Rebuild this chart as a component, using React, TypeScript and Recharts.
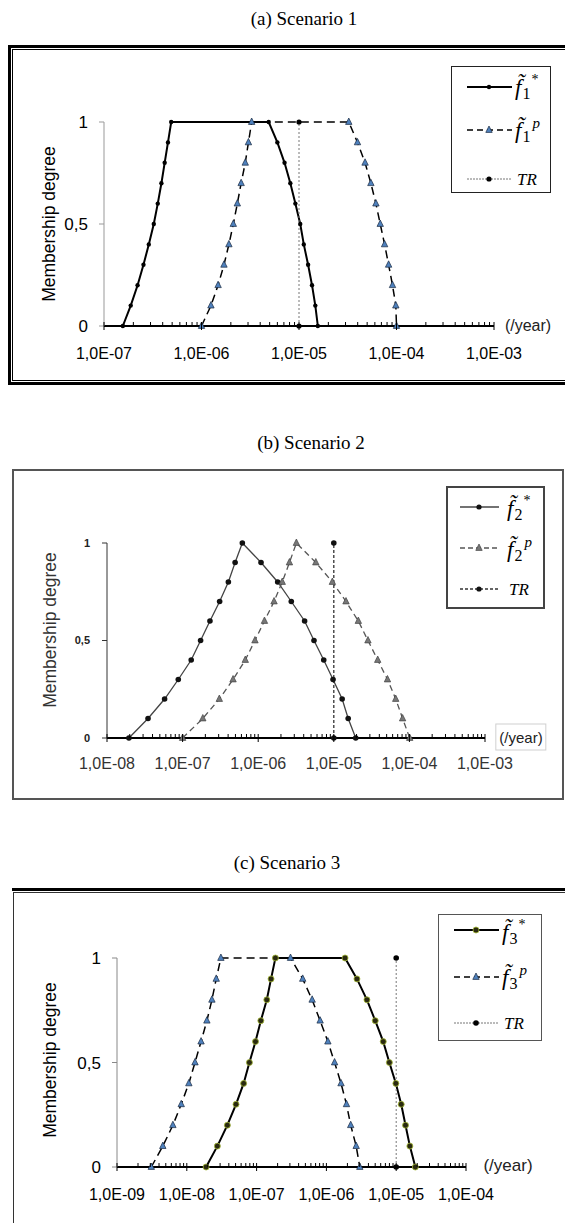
import React from "react"
import { LineChart, Line, XAxis, YAxis } from "recharts"

// membership degrees (shared by all fuzzy numbers)
const degUp = [0, 0.1, 0.2, 0.3, 0.4, 0.5, 0.6, 0.7, 0.8, 0.9, 1]
const degDown = [1, 0.9, 0.8, 0.7, 0.6, 0.5, 0.4, 0.3, 0.2, 0.1, 0]
const degTrapezoid = [...degUp, ...degDown]
const degTriangle = [...degUp, ...degDown.slice(1)]
const degTR = [0, 1]
const degreeTicks = [0, 0.5, 1]

// tolerable risk (/year)
const trRate = [1e-5, 1e-5]

// (a) Scenario 1
const decades1 = [1e-7, 1e-6, 1e-5, 1e-4, 1e-3]
const f1Star = [
  1.56e-7, 1.88e-7, 2.21e-7, 2.54e-7, 2.88e-7, 3.24e-7, 3.56e-7, 3.88e-7, 4.19e-7, 4.53e-7, 4.89e-7,
  4.89e-6, 6.0e-6, 7.11e-6, 8.15e-6, 9.18e-6, 1.03e-5, 1.12e-5, 1.24e-5, 1.36e-5, 1.47e-5, 1.56e-5,
]
const f1P = [
  1.0e-6, 1.25e-6, 1.48e-6, 1.7e-6, 1.91e-6, 2.12e-6, 2.33e-6, 2.55e-6, 2.81e-6, 3.03e-6, 3.27e-6,
  3.24e-5, 3.98e-5, 4.76e-5, 5.46e-5, 6.15e-5, 6.81e-5, 7.55e-5, 8.3e-5, 9.1e-5, 9.84e-5, 1.0e-4,
]

// (b) Scenario 2
const decades2 = [1e-8, 1e-7, 1e-6, 1e-5, 1e-4, 1e-3]
const f2Star = [
  1.95e-8, 3.49e-8, 5.78e-8, 8.77e-8, 1.3e-7, 1.73e-7, 2.3e-7, 3.09e-7, 4.03e-7, 4.95e-7, 6.17e-7,
  1.09e-6, 1.81e-6, 2.74e-6, 4.11e-6, 5.47e-6, 7.36e-6, 9.77e-6, 1.29e-5, 1.55e-5, 1.95e-5,
]
const f2P = [
  1.0e-7, 1.85e-7, 3.06e-7, 4.65e-7, 6.75e-7, 9.06e-7, 1.21e-6, 1.62e-6, 2.08e-6, 2.59e-6, 3.2e-6,
  5.78e-6, 9.57e-6, 1.45e-5, 2.11e-5, 2.83e-5, 3.81e-5, 5.13e-5, 6.59e-5, 8.13e-5, 1.01e-4,
]

// (c) Scenario 3
const decades3 = [1e-9, 1e-8, 1e-7, 1e-6, 1e-5, 1e-4]
const f3Star = [
  1.89e-8, 2.74e-8, 3.81e-8, 5.07e-8, 6.52e-8, 7.89e-8, 9.64e-8, 1.15e-7, 1.4e-7, 1.61e-7, 1.86e-7,
  1.85e-6, 2.74e-6, 3.81e-6, 5.01e-6, 6.52e-6, 7.98e-6, 9.89e-6, 1.18e-5, 1.36e-5, 1.57e-5, 1.88e-5,
]
const f3P = [
  3.1e-9, 4.53e-9, 6.32e-9, 8.32e-9, 1.07e-8, 1.31e-8, 1.6e-8, 1.94e-8, 2.29e-8, 2.64e-8, 3.08e-8,
  3.06e-7, 4.58e-7, 6.25e-7, 8.13e-7, 1.05e-6, 1.31e-6, 1.62e-6, 1.94e-6, 2.23e-6, 2.67e-6, 3.01e-6,
]

const SANS = "'Liberation Sans', Arial, sans-serif"
const SERIF = "'Liberation Serif', 'Times New Roman', serif"

function pts(xs: number[], ys: number[]) {
  return xs.map((x, i) => ({ x, y: ys[i] }))
}

// decade ticks plus the 2..9 minor ticks between them
function logTicks(decades: number[]) {
  const out: number[] = []
  decades.forEach((d, i) => {
    if (i === decades.length - 1) {
      out.push(d)
      return
    }
    for (let m = 1; m <= 9; m++) out.push(Number((d * m).toPrecision(6)))
  })
  return out
}

function rateLabel(v: number) {
  const e = Math.round(Math.log10(v))
  return "1,0E-" + String(-e).padStart(2, "0")
}

// eslint-disable-next-line @typescript-eslint/no-explicit-any
function RateTick({ x, y, payload, fontSize, color, labelDy }: any) {
  const v = payload.value
  const lg = Math.log10(v)
  const major = Math.abs(lg - Math.round(lg)) < 1e-6
  if (!major) return <line x1={x} x2={x} y1={y} y2={y - 4} stroke="#000" strokeWidth={1} />
  return (
    <g>
      <line x1={x} x2={x} y1={y - 4} y2={y + 4} stroke="#000" strokeWidth={1} />
      <text x={x} y={y + labelDy} textAnchor="middle" fontSize={fontSize} fill={color} fontFamily={SANS}>
        {rateLabel(v)}
      </text>
    </g>
  )
}

// eslint-disable-next-line @typescript-eslint/no-explicit-any
const circleDot = (r: number, fill: string, stroke = "none", sw = 0) => (p: any) => {
  if (p.cx == null || p.cy == null) return <g key={p.index} />
  return <circle key={p.index} cx={p.cx} cy={p.cy} r={r} fill={fill} stroke={stroke} strokeWidth={sw} />
}

// eslint-disable-next-line @typescript-eslint/no-explicit-any
const triangleDot = (s: number, fill: string, stroke: string) => (p: any) => {
  if (p.cx == null || p.cy == null) return <g key={p.index} />
  const d = `M${p.cx},${p.cy - s} L${p.cx + s * 0.8},${p.cy + s * 0.6} L${p.cx - s * 0.8},${p.cy + s * 0.6} Z`
  return <path key={p.index} d={d} fill={fill} stroke={stroke} strokeWidth={0.7} />
}

type Series = {
  name: string
  data: { x: number; y: number }[]
  stroke: string
  width: number
  dash?: string
  // eslint-disable-next-line @typescript-eslint/no-explicit-any
  dot: (p: any) => React.ReactElement
}

type PanelProps = {
  top: number
  height: number
  plotLeft: number
  plotRight: number
  plotTop: number
  plotBottom: number
  decades: number[]
  series: Series[]
  xFont: number
  xColor: string
  labelDy: number
  yFont: number
  yColor: string
  yWeight?: number
  yMargin: number
  yAxisColor: string
}

function Panel(p: PanelProps) {
  const ticks = logTicks(p.decades)
  const xh = 40
  return (
    <div style={{ position: "absolute", left: 0, top: p.top, width: 565, height: p.height }}>
      <LineChart
        width={565}
        height={p.height}
        margin={{ top: p.plotTop, right: 565 - p.plotRight, left: 0, bottom: p.height - p.plotBottom - xh }}
      >
        <XAxis
          dataKey="x"
          type="number"
          scale="log"
          domain={[p.decades[0], p.decades[p.decades.length - 1]]}
          allowDataOverflow
          ticks={ticks}
          interval={0}
          height={xh}
          tickSize={0}
          tickMargin={0}
          tickLine={false}
          axisLine={{ stroke: "#000", strokeWidth: 2 }}
          tick={(tp) => <RateTick {...tp} fontSize={p.xFont} color={p.xColor} labelDy={p.labelDy} />}
        />
        <YAxis
          type="number"
          domain={[0, 1]}
          ticks={degreeTicks}
          width={p.plotLeft}
          tickSize={5}
          tickMargin={p.yMargin}
          tickFormatter={(v) => String(v).replace(".", ",")}
          tick={{ fontSize: p.yFont, fill: p.yColor, fontFamily: SANS, fontWeight: p.yWeight ?? 400 }}
          axisLine={{ stroke: p.yAxisColor, strokeWidth: 1 }}
          tickLine={{ stroke: p.yAxisColor, strokeWidth: 1 }}
        />
        {p.series.map((s) => (
          <Line
            key={s.name}
            data={s.data}
            dataKey="y"
            type="linear"
            stroke={s.stroke}
            strokeWidth={s.width}
            strokeDasharray={s.dash}
            dot={s.dot}
            activeDot={false}
            isAnimationActive={false}
          />
        ))}
      </LineChart>
    </div>
  )
}

// f with tilde, subscript index and superscript mark, as one text
function FSymbol({ x, y, sub, sup }: { x: number; y: number; sub: string; sup: string }) {
  return (
    <text x={x} y={y + 8} fontFamily={SERIF} fill="#000">
      <tspan fontSize={23} fontStyle="italic">{"f\u0303"}</tspan>
      <tspan fontSize={16} dx={1} dy={4}>{sub}</tspan>
      {sup === "*" ? (
        <tspan fontSize={14} dx={1} dy={-15}>*</tspan>
      ) : (
        <tspan fontSize={15} fontStyle="italic" dx={2} dy={-14}>p</tspan>
      )}
    </text>
  )
}

type LegendRow = {
  y: number
  stroke: string
  width: number
  dash?: string
  marker: React.ReactElement
  label: React.ReactElement
}

function LegendBox({ left, top, width, height, border, rows, x1, x2 }: {
  left: number; top: number; width: number; height: number; border: string
  rows: LegendRow[]; x1: number; x2: number
}) {
  return (
    <div style={{ position: "absolute", left, top, width, height, border, boxSizing: "border-box", background: "#fff" }}>
      <svg width={width} height={height} style={{ position: "absolute", left: -1, top: -1 }}>
        {rows.map((r, i) => (
          <g key={i}>
            <line x1={x1} x2={x2} y1={r.y} y2={r.y} stroke={r.stroke} strokeWidth={r.width} strokeDasharray={r.dash} />
            {r.marker}
            {r.label}
          </g>
        ))}
      </svg>
    </div>
  )
}

function Title({ x, y, text }: { x: number; y: number; text: string }) {
  return (
    <div style={{ position: "absolute", left: x, top: y, transform: "translate(-50%,-50%)", fontFamily: SERIF, fontSize: 19, whiteSpace: "nowrap" }}>
      {text}
    </div>
  )
}

function YLabel({ x, y, size, color }: { x: number; y: number; size: number; color: string }) {
  return (
    <div style={{ position: "absolute", left: x, top: y, transform: "translate(-50%,-50%) rotate(-90deg)", fontFamily: SANS, fontSize: size, color, whiteSpace: "nowrap" }}>
      Membership degree
    </div>
  )
}

function Unit({ x, y, size, boxed }: { x: number; y: number; size: number; boxed?: boolean }) {
  return (
    <div style={{
      position: "absolute", left: x, top: y, transform: "translate(-50%,-50%)", fontFamily: SANS, fontSize: size,
      whiteSpace: "nowrap", color: "#222", padding: boxed ? "4px 3px" : 0, border: boxed ? "1px solid #d0d0d0" : "none",
    }}>
      (/year)
    </div>
  )
}

const BLUE = "#4f81bd"

export default function App() {
  const s1: Series[] = [
    { name: "f1s", data: pts(f1Star, degTrapezoid), stroke: "#000", width: 2, dot: circleDot(2.2, "#000") },
    { name: "f1p", data: pts(f1P, degTrapezoid), stroke: "#000", width: 1.5, dash: "8 5", dot: triangleDot(4, BLUE, "#1a2a40") },
    { name: "tr1", data: pts(trRate, degTR), stroke: "#777", width: 1, dash: "2 2", dot: circleDot(2.6, "#000") },
  ]
  const s2: Series[] = [
    { name: "f2s", data: pts(f2Star, degTriangle), stroke: "#444", width: 1.3, dot: circleDot(2.8, "#111") },
    { name: "f2p", data: pts(f2P, degTriangle), stroke: "#555", width: 1.3, dash: "6 4", dot: triangleDot(4, "#777", "#444") },
    { name: "tr2", data: pts(trRate, degTR), stroke: "#333", width: 1.3, dash: "3 2", dot: circleDot(2.8, "#111") },
  ]
  const s3: Series[] = [
    { name: "f3s", data: pts(f3Star, degTrapezoid), stroke: "#000", width: 2, dot: circleDot(3, "#2a2a10", "#a8bc38", 0.8) },
    { name: "f3p", data: pts(f3P, degTrapezoid), stroke: "#000", width: 1.5, dash: "8 5", dot: triangleDot(4, BLUE, "#1a2a40") },
    { name: "tr3", data: pts(trRate, degTR), stroke: "#777", width: 1, dash: "2 2", dot: circleDot(2.8, "#000") },
  ]

  return (
    <div style={{ position: "absolute", left: 0, top: 0, width: 565, height: 1223, overflow: "hidden", background: "#fff" }}>
      {/* (a) frame: thick outer + thin inner */}
      <div style={{ position: "absolute", left: 8, top: 45, width: 620, height: 340, border: "3px solid #000", boxSizing: "border-box" }} />
      <div style={{ position: "absolute", left: 12, top: 49, width: 620, height: 332, border: "1px solid #000", boxSizing: "border-box" }} />
      {/* (b) frame */}
      <div style={{ position: "absolute", left: 12, top: 469, width: 552, height: 331, border: "2px solid #555", boxSizing: "border-box" }} />
      {/* (c) frame */}
      <div style={{ position: "absolute", left: 12, top: 888, width: 560, height: 3, background: "#000" }} />
      <div style={{ position: "absolute", left: 13, top: 892, width: 560, height: 1, background: "#333" }} />
      <div style={{ position: "absolute", left: 13, top: 892, width: 1, height: 340, background: "#333" }} />

      <Title x={304} y={19} text="(a) Scenario 1" />
      <Title x={311} y={443} text="(b) Scenario 2" />
      <Title x={287} y={863} text="(c) Scenario 3" />

      <Panel
        top={0} height={400} plotLeft={104} plotRight={494} plotTop={122} plotBottom={326}
        decades={decades1} series={s1} xFont={16} xColor="#000" labelDy={33}
        yFont={17} yColor="#000" yMargin={11} yAxisColor="#999"
      />
      <Panel
        top={400} height={400} plotLeft={107} plotRight={485} plotTop={143} plotBottom={338}
        decades={decades2} series={s2} xFont={16} xColor="#333" labelDy={31}
        yFont={11} yColor="#222" yWeight={700} yMargin={12} yAxisColor="#333"
      />
      <Panel
        top={830} height={393} plotLeft={117} plotRight={466} plotTop={128} plotBottom={337}
        decades={decades3} series={s3} xFont={16} xColor="#000" labelDy={33}
        yFont={17} yColor="#000" yMargin={11} yAxisColor="#888"
      />

      <YLabel x={49} y={224} size={17.5} color="#000" />
      <YLabel x={50} y={630} size={17.5} color="#333" />
      <YLabel x={50} y={1060} size={17.5} color="#000" />

      <Unit x={528} y={326} size={16} />
      <Unit x={521} y={737} size={15} boxed />
      <Unit x={508} y={1166} size={17} />

      <LegendBox
        left={451} top={66} width={100} height={127} border="1px solid #222" x1={16} x2={61}
        rows={[
          { y: 21, stroke: "#000", width: 2, marker: <circle cx={38} cy={21} r={2.2} fill="#000" />, label: <FSymbol x={64} y={21} sub="1" sup="*" /> },
          { y: 64, stroke: "#000", width: 1.5, dash: "6 4", marker: <path d="M38,60 L41.2,66.4 L34.8,66.4 Z" fill={BLUE} stroke="#1a2a40" strokeWidth={0.7} />, label: <FSymbol x={64} y={64} sub="1" sup="p" /> },
          { y: 113, stroke: "#777", width: 1, dash: "2 1", marker: <circle cx={38} cy={113} r={2.6} fill="#000" />, label: <text x={66} y={119} fontSize={17} fontStyle="italic" fontFamily={SERIF}>TR</text> },
        ]}
      />
      <LegendBox
        left={446} top={486} width={99} height={123} border="2px solid #444" x1={13} x2={52}
        rows={[
          { y: 20, stroke: "#444", width: 1.5, marker: <circle cx={32} cy={20} r={2.6} fill="#111" />, label: <FSymbol x={60} y={21} sub="2" sup="*" /> },
          { y: 61, stroke: "#555", width: 1.3, dash: "5 3", marker: <path d="M32,57 L35.2,63.4 L28.8,63.4 Z" fill="#777" stroke="#444" strokeWidth={0.7} />, label: <FSymbol x={60} y={62} sub="2" sup="p" /> },
          { y: 102, stroke: "#333", width: 1.3, dash: "3 2", marker: <circle cx={32} cy={102} r={2.6} fill="#111" />, label: <text x={62} y={108} fontSize={17} fontStyle="italic" fontFamily={SERIF}>TR</text> },
        ]}
      />
      <LegendBox
        left={438} top={914} width={104} height={127} border="1px solid #555" x1={16} x2={61}
        rows={[
          { y: 16, stroke: "#000", width: 2, marker: <circle cx={38} cy={16} r={3} fill="#2a2a10" stroke="#a8bc38" strokeWidth={0.8} />, label: <FSymbol x={64} y={18} sub="3" sup="*" /> },
          { y: 63, stroke: "#000", width: 1.5, dash: "6 4", marker: <path d="M38,59 L41.2,65.4 L34.8,65.4 Z" fill={BLUE} stroke="#1a2a40" strokeWidth={0.7} />, label: <FSymbol x={64} y={63} sub="3" sup="p" /> },
          { y: 109, stroke: "#777", width: 1, dash: "2 1", marker: <circle cx={38} cy={109} r={2.8} fill="#000" />, label: <text x={66} y={115} fontSize={17} fontStyle="italic" fontFamily={SERIF}>TR</text> },
        ]}
      />
    </div>
  )
}
